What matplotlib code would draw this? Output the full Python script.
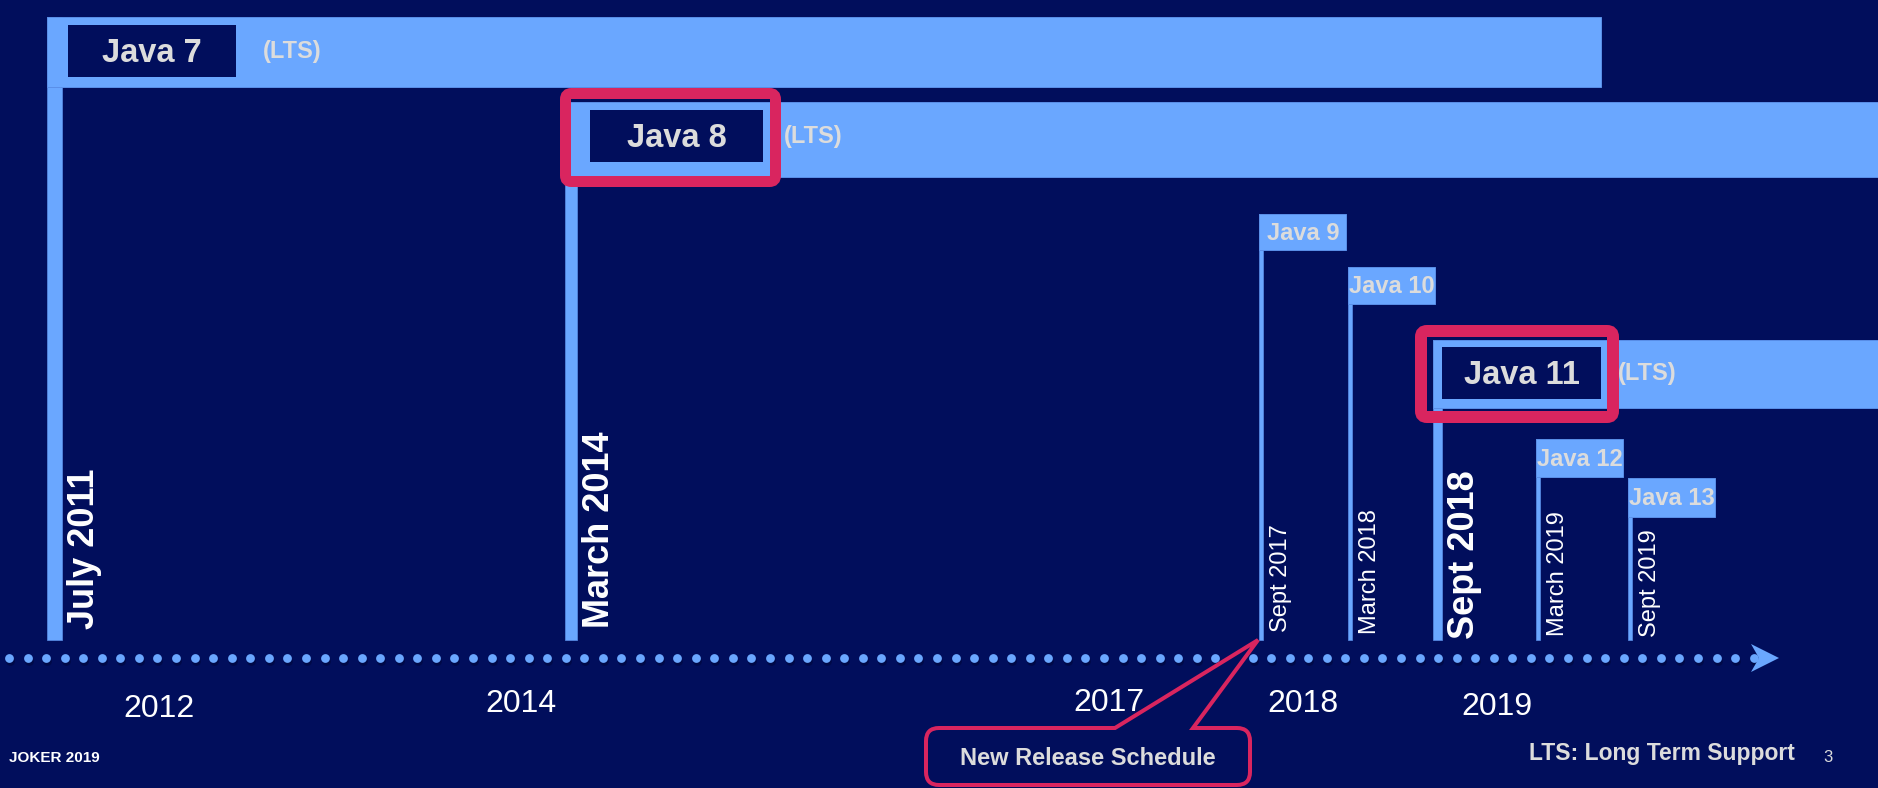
import numpy as np
import matplotlib
matplotlib.use('Agg')
import matplotlib.pyplot as plt
from matplotlib.patches import Rectangle, FancyBboxPatch, PathPatch, Polygon
from matplotlib.path import Path

W, H = 1878, 788
BG = '#010E5C'
BLUE = '#6AA7FF'
BLUE_EDGE = '#5A8FE8'
PINK = '#D9255F'
GREY = '#DCDCDC'
WHITE = '#FFFFFF'

plt.rcParams['font.family'] = ['Liberation Sans', 'DejaVu Sans']

# releases (timeline is not to scale, positions are read off the slide)
versions = ['Java 7', 'Java 8', 'Java 9', 'Java 10', 'Java 11', 'Java 12', 'Java 13']
release_dates = ['July 2011', 'March 2014', 'Sept 2017', 'March 2018',
                 'Sept 2018', 'March 2019', 'Sept 2019']
is_lts = [True, True, False, False, True, False, False]
highlighted = [False, True, False, False, True, False, False]
release_x = [47, 565, 1259, 1348, 1433, 1536, 1628]
support_end_x = [1601, W, None, None, W, None, None]

year_labels = ['2012', '2014', '2017', '2018', '2019']
year_x = [159, 521, 1109, 1303, 1497]
year_baseline = [717, 712, 711, 712, 715]

# layout of each lane
lane_top = [17, 102, 214, 267, 340, 439, 478]
lane_height = [70, 75, 36, 37, 68, 38, 39]
bar_width = [15, 12, 4, 4, 9, 4, 4]
label_box = {0: (21, 8, 168, 52), 1: (25, 8, 173, 52), 4: (9, 7, 159, 52)}
lts_gap = {0: 27, 1: 21, 4: 17}
highlight_box = {1: (560, 88, 221, 99, 11), 4: (1415, 325, 204, 98, 12)}
date_start_y = [629, 628, 632, 634, 639, 636, 637]
TIMELINE_Y = 658
BAR_BOTTOM = 640
PX = 0.72  # points per pixel at dpi 100


def draw_release(ax, i):
    x = release_x[i]
    top = lane_top[i]
    bw = bar_width[i]
    ax.add_patch(Rectangle((x, top), bw, BAR_BOTTOM - top, facecolor=BLUE,
                           edgecolor=BLUE_EDGE, lw=0.5, zorder=2))

    if is_lts[i]:
        ax.add_patch(Rectangle((x, top), support_end_x[i] - x, lane_height[i],
                               facecolor=BLUE, edgecolor=BLUE_EDGE, lw=0.7, zorder=2))
        dx, dy, bw2, bh2 = label_box[i]
        ax.add_patch(Rectangle((x + dx, top + dy), bw2, bh2, facecolor=BG,
                               edgecolor='none', zorder=3))
        ax.text(x + dx + bw2 / 2, top + dy + bh2 / 2 + 2, versions[i], color=GREY,
                fontsize=23.5, fontweight='bold', ha='center', va='center', zorder=4)
        ax.text(x + dx + bw2 + lts_gap[i], top + dy + bh2 / 2, '(LTS)', color=GREY,
                fontsize=17, fontweight='bold', ha='left', va='center', zorder=4)
    else:
        ax.add_patch(Rectangle((x, top), 87, lane_height[i], facecolor=BLUE,
                               edgecolor=BLUE_EDGE, lw=0.7, zorder=2))
        ax.text(x + 44, top + lane_height[i] / 2 + 1, versions[i], color=GREY,
                fontsize=17, fontweight='bold', ha='center', va='center', zorder=4)

    if highlighted[i]:
        hx, hy, hw, hh, lw = highlight_box[i]
        ax.add_patch(FancyBboxPatch((hx + lw / 2, hy + lw / 2), hw - lw, hh - lw,
                                    boxstyle='round,pad=0,rounding_size=6',
                                    facecolor='none', edgecolor=PINK,
                                    lw=lw * PX, zorder=5))

    # rotated release date next to the bar
    bold = is_lts[i]
    off = 32 if bold else 24
    ax.text(x + bw + off, date_start_y[i], release_dates[i], color=WHITE,
            fontsize=26 if bold else 17, fontweight='bold' if bold else 'normal',
            rotation=90, rotation_mode='anchor', ha='left', va='baseline', zorder=4)


def draw_timeline(ax):
    dots_x = np.arange(9, 1756, 18.56)
    ax.scatter(dots_x + 1, np.full(dots_x.shape, TIMELINE_Y + 3), s=40,
               color='#00063A', alpha=0.6, linewidths=0, zorder=2)
    ax.scatter(dots_x, np.full(dots_x.shape, TIMELINE_Y), s=40,
               color=BLUE, linewidths=0, zorder=3)
    ax.add_patch(Polygon([(1751, TIMELINE_Y - 14), (1779, TIMELINE_Y),
                          (1751, TIMELINE_Y + 14), (1759, TIMELINE_Y)],
                         closed=True, facecolor=BLUE, edgecolor='none', zorder=3))

    for label, x, y in zip(year_labels, year_x, year_baseline):
        ax.text(x, y, label, color=WHITE, fontsize=23, ha='center',
                va='baseline', zorder=4)


def draw_callout(ax):
    x0, x1, y0, y1 = 926, 1250, 728, 785
    r = 13
    base_l, base_r = 1115, 1193
    tip = (release_x[2] - 1, BAR_BOTTOM)
    verts = [(base_l, y0), tip, (base_r, y0), (x1 - r, y0), (x1, y0), (x1, y0 + r),
             (x1, y1 - r), (x1, y1), (x1 - r, y1), (x0 + r, y1), (x0, y1),
             (x0, y1 - r), (x0, y0 + r), (x0, y0), (x0 + r, y0), (base_l, y0)]
    codes = [Path.MOVETO, Path.LINETO, Path.LINETO, Path.LINETO, Path.CURVE3,
             Path.CURVE3, Path.LINETO, Path.CURVE3, Path.CURVE3, Path.LINETO,
             Path.CURVE3, Path.CURVE3, Path.LINETO, Path.CURVE3, Path.CURVE3,
             Path.CLOSEPOLY]
    ax.add_patch(PathPatch(Path(verts, codes), facecolor=BG, edgecolor=PINK,
                           lw=4 * PX, joinstyle='miter', zorder=5))
    ax.text((x0 + x1) / 2, 765, 'New Release Schedule', color=GREY, fontsize=17,
            fontweight='bold', ha='center', va='baseline', zorder=6)


def main():
    fig = plt.figure(figsize=(W / 100, H / 100), dpi=100)
    fig.patch.set_facecolor(BG)
    ax = fig.add_axes([0, 0, 1, 1])
    ax.set_xlim(0, W)
    ax.set_ylim(H, 0)
    ax.set_facecolor(BG)
    ax.axis('off')

    for i in range(len(versions)):
        draw_release(ax, i)

    draw_timeline(ax)
    draw_callout(ax)

    ax.text(9, 762, 'JOKER 2019', color=WHITE, fontsize=11, fontweight='bold',
            ha='left', va='baseline')
    ax.text(1795, 760, 'LTS: Long Term Support', color=GREY, fontsize=16.5,
            fontweight='bold', ha='right', va='baseline')
    ax.text(1828, 762, '3', color=GREY, fontsize=12, ha='center', va='baseline')

    fig.savefig('out.png', dpi=100, facecolor=BG)
    plt.close(fig)


if __name__ == '__main__':
    main()
